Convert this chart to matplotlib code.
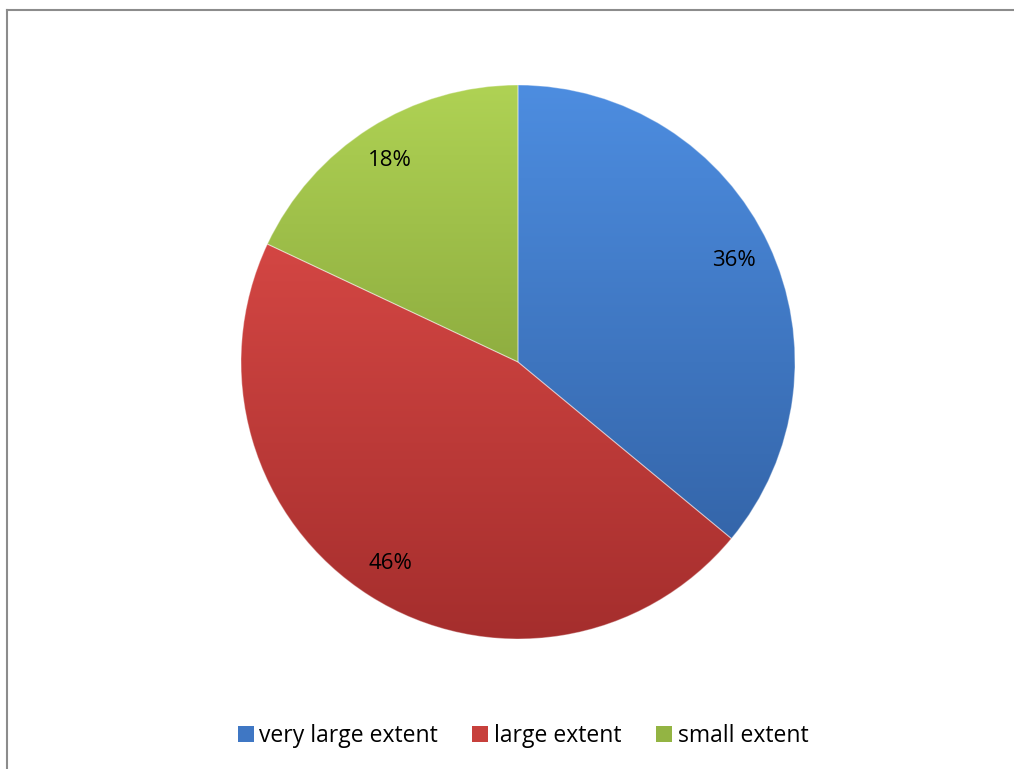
import matplotlib
matplotlib.use("Agg")
import matplotlib.pyplot as plt
import numpy as np
from matplotlib.lines import Line2D
from matplotlib.patches import Patch
from matplotlib.colors import LinearSegmentedColormap

categories = ["very large extent", "large extent", "small extent"]
values = [36, 46, 18]
colors = ["#3f77c4", "#c7403c", "#93b443"]
top_colors = ["#4d8de0", "#e6504c", "#afd254"]
bottom_colors = ["#2f5d9e", "#a52e2d", "#6f8a2c"]

W, H = 1014, 769
fig = plt.figure(figsize=(W / 100, H / 100), dpi=100)

# border (top and left visible)
fig.add_artist(Line2D([7 / W, 1.01], [1 - 10 / H, 1 - 10 / H], transform=fig.transFigure,
                      color="#8c8c8c", lw=1.5))
fig.add_artist(Line2D([7 / W, 7 / W], [1 - 10 / H, -0.01], transform=fig.transFigure,
                      color="#8c8c8c", lw=1.5))

cx, cy, r = 518, 362, 277
ax = fig.add_axes([(cx - r) / W, 1 - (cy + r) / H, 2 * r / W, 2 * r / H])
wedges, texts, autotexts = ax.pie(
    values, colors=colors, startangle=90, counterclock=False,
    autopct=lambda p: f"{p:.0f}%", pctdistance=0.86,
    wedgeprops=dict(edgecolor=(1, 1, 1, 0.35), linewidth=0.8),
    textprops=dict(fontsize=16, family="Open Sans", color="black"),
)
grad = np.linspace(1, 0, 256).reshape(-1, 1)
for w, tc, bc in zip(wedges, top_colors, bottom_colors):
    cmap = LinearSegmentedColormap.from_list("g", [bc, tc])
    im = ax.imshow(grad, cmap=cmap, extent=(-1, 1, -1, 1), aspect="auto",
                   zorder=w.get_zorder() + 0.1, vmin=0, vmax=1, interpolation="bilinear")
    im.set_clip_path(w)
for w in wedges:
    w.set_facecolor("none")
    w.set_zorder(3)
for t in autotexts:
    t.set_zorder(5)
ax.set_xlim(-1, 1)
ax.set_ylim(-1, 1)
ax.set_aspect("equal")
ax.axis("off")

handles = [Patch(facecolor=c, edgecolor="none") for c in colors]
fig.legend(handles, categories, loc="center", bbox_to_anchor=(523 / W, 1 - 736 / H),
           ncol=3, frameon=False, prop=dict(family="Open Sans", size=16.5),
           handlelength=0.7, handleheight=0.7, handletextpad=0.25, columnspacing=1.5)

fig.savefig("out.png", dpi=100)
